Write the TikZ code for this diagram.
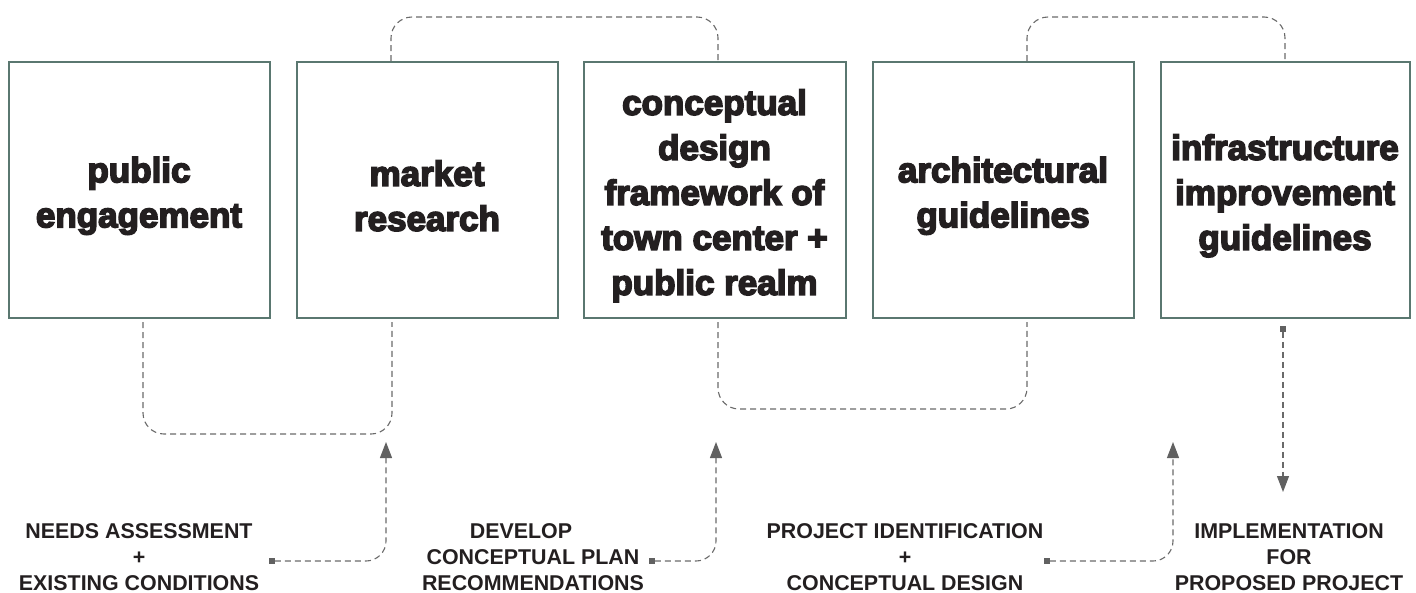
\documentclass[tikz,border=0pt]{standalone}
\usepackage{fontspec}
\usetikzlibrary{arrows.meta}
\newfontfamily\boxfont{Liberation Sans Bold}
\newfontfamily\labfont{Liberation Sans Bold}
\newcommand\heavyon{\special{pdf:literal direct 2 Tr 1.6 w}}
\newcommand\heavyoff{\special{pdf:literal direct 0 Tr}}
\newcommand\lift{\rule{0pt}{37pt}}
\definecolor{boxline}{HTML}{5A7770}
\definecolor{dashgray}{HTML}{6A6A6A}
\definecolor{tipgray}{HTML}{616161}
\definecolor{ink}{HTML}{231F20}
\begin{document}
\begin{tikzpicture}[x=1pt,y=-1pt,
  stage/.style={draw=boxline, line width=2pt, minimum height=256pt, inner sep=0pt,
    align=center, font=\boxfont\fontsize{35}{45}\selectfont\heavyon, text=ink,
    execute at end node={\heavyoff}},
  flow/.style={draw=dashgray, line width=1.1pt, dash pattern=on 6pt off 4pt, rounded corners=21pt},
  tip/.style={-{Triangle[length=16pt,width=12pt,fill=tipgray,color=tipgray]}},
  marker/.style={fill=tipgray, minimum size=5.5pt, inner sep=0pt},
  phase/.style={font=\labfont\fontsize{21.4}{26}\selectfont, align=center, text=ink, inner sep=0pt}]
\useasboundingbox (0,0) rectangle (1416,592);

\node[stage, minimum width=261pt] (b1) at (139,190) {\lift public\\engagement};
\node[stage, minimum width=261pt] (b2) at (427,190) {\lift market\\research};
\node[stage, minimum width=262pt] (b3) at (714.5,190) {\lift conceptual\\design\\framework of\\town center +\\public realm};
\node[stage, minimum width=261pt] (b4) at (1003,190) {\lift architectural\\guidelines};
\node[stage, minimum width=249pt] (b5) at (1285,190) {\lift infrastructure\\improvement\\guidelines};

\coordinate (topy) at (0,17);
\coordinate (boty1) at (0,434);
\coordinate (boty2) at (0,409);

\coordinate (t2) at ([xshift=-36pt]b2.north);
\coordinate (t3) at ([xshift=3.5pt]b3.north);
\coordinate (t4) at ([xshift=24pt]b4.north);
\coordinate (t5) at (b5.north);
\draw[flow] (t2) -- (t2 |- topy) -| (t3);
\draw[flow] (t4) -- (t4 |- topy) -| (t5);

\coordinate (d1) at ([xshift=4pt,yshift=-3pt]b1.south);
\coordinate (d2) at ([xshift=-35pt,yshift=-3pt]b2.south);
\coordinate (d3) at ([xshift=3.5pt,yshift=-3pt]b3.south);
\coordinate (d4) at ([xshift=24pt,yshift=-3pt]b4.south);
\draw[flow] (d1) -- (d1 |- boty1) -| (d2);
\draw[flow] (d3) -- (d3 |- boty2) -| (d4);

\node[marker] (m1) at (272,561) {};
\node[marker] (m2) at (652,561) {};
\node[marker] (m3) at (1047,561) {};
\node[marker] (m4) at (1283,329) {};
\coordinate (a1) at (386,442);
\coordinate (a2) at (716,442);
\coordinate (a3) at (1173,442);
\coordinate (a4) at (1283,492);
\draw[flow, tip, rounded corners=20pt] (m1.east) -| (a1);
\draw[flow, tip, rounded corners=20pt] (m2.east) -| (a2);
\draw[flow, tip, rounded corners=20pt] (m3.east) -| (a3);
\draw[flow, tip] (m4.south) -- (a4);

\node[phase] (l1) at (139,557) {NEEDS ASSESSMENT\\+\\EXISTING CONDITIONS};
\node[phase] (l2) at (533,557) {DEVELOP\hspace*{24pt}\\CONCEPTUAL PLAN\\RECOMMENDATIONS};
\node[phase] (l3) at (905,557) {PROJECT IDENTIFICATION\\+\\CONCEPTUAL DESIGN};
\node[phase] (l4) at (1289,557) {IMPLEMENTATION\\FOR\\PROPOSED PROJECT};
\end{tikzpicture}
\end{document}
